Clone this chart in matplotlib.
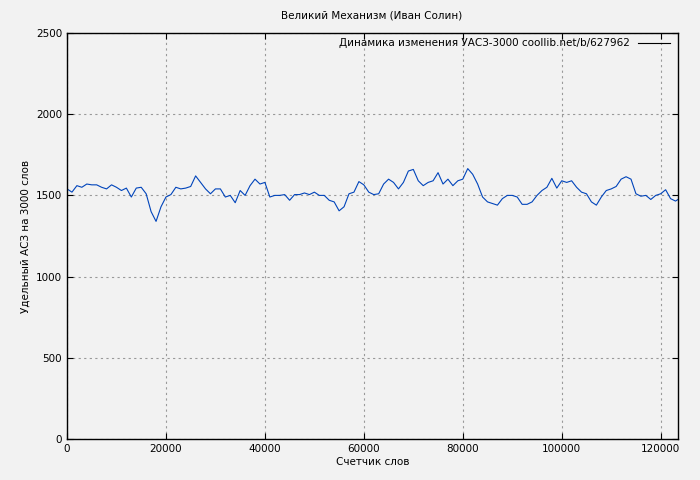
import matplotlib
matplotlib.use("Agg")
import matplotlib.pyplot as plt

x_words = list(range(0, 124000, 1000))
x_words = [v for v in x_words if v <= 123000] + [123500]
uasz = [1540,1520,1560,1550,1570,1565,1565,1550,1540,1565,1550,1530,1545,1490,1545,1550,1510,1400,1340,1430,
        1490,1505,1550,1540,1545,1555,1620,1580,1540,1510,1540,1540,1490,1500,1455,1530,1500,1560,1600,1570,
        1580,1490,1500,1500,1505,1470,1505,1505,1515,1505,1520,1500,1500,1470,1460,1405,1430,1510,1520,1585,
        1565,1520,1505,1510,1570,1600,1580,1540,1580,1650,1660,1590,1560,1580,1590,1640,1570,1600,1560,1590,
        1600,1665,1630,1570,1490,1460,1450,1440,1480,1500,1500,1490,1445,1445,1460,1500,1530,1550,1605,1545,
        1590,1580,1590,1550,1520,1510,1460,1440,1490,1530,1540,1555,1600,1615,1600,1510,1495,1500,1475,1500,
        1510,1535,1480,1465,1475]
n = min(len(x_words), len(uasz))
x_words, uasz = x_words[:n], uasz[:n]

fig = plt.figure(figsize=(7, 4.8), dpi=100, facecolor="#f2f2f2")
ax = fig.add_axes([67/700, 41/480, 611/700, 406/480], facecolor="#f2f2f2")
ax.plot(x_words, uasz, color="#0044bb", lw=0.8, label="Динамика изменения УАСЗ-3000 coollib.net/b/627962")
ax.set_xlim(0, 123500)
ax.set_ylim(0, 2500)
ax.set_xticks(range(0, 120001, 20000))
ax.set_yticks(range(0, 2501, 500))
ax.grid(True, color="#999999", ls=(0, (2, 3)), lw=0.8)
ax.tick_params(labelsize=7.5, direction="in", length=4, top=True, right=True)
for s in ax.spines.values():
    s.set_linewidth(1)
ax.set_xlabel("Счетчик слов", fontsize=7.5, labelpad=2)
ax.set_ylabel("Удельный АСЗ на 3000 слов", fontsize=7.5)
fig.text(372/700, 1-16/480, "Великий Механизм (Иван Солин)", ha="center", va="center", fontsize=7.5)
leg = ax.legend(loc="upper right", fontsize=7.5, frameon=False, markerfirst=False, handlelength=3,
                borderaxespad=0.1, bbox_to_anchor=(0.995, 1.0))
for l in leg.get_lines():
    l.set_color("black")
fig.savefig("out.png", dpi=100, facecolor=fig.get_facecolor())
